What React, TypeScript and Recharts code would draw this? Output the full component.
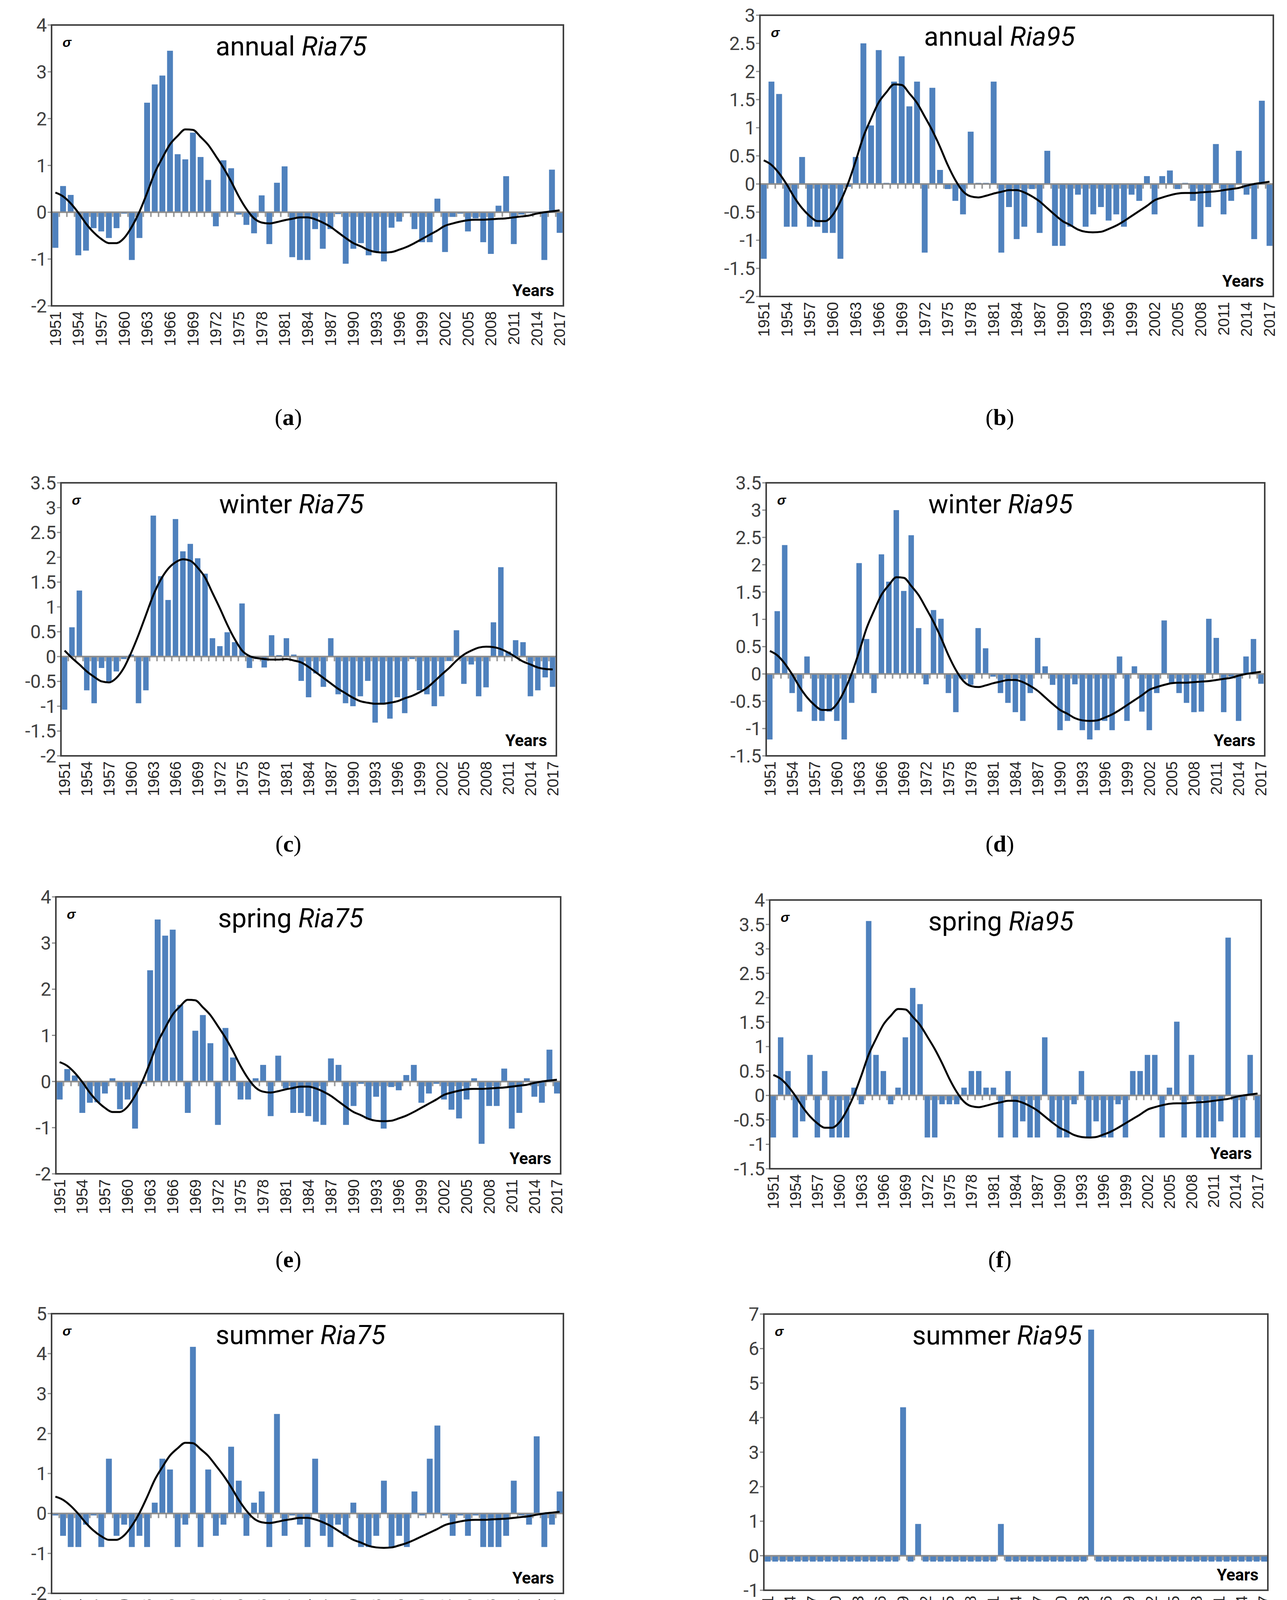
import React from "react";
import { ComposedChart, Bar, Line, XAxis, YAxis, ReferenceLine } from "recharts";

// categories
const years = [
  1951, 1952, 1953, 1954, 1955, 1956, 1957, 1958, 1959, 1960,
  1961, 1962, 1963, 1964, 1965, 1966, 1967, 1968, 1969, 1970,
  1971, 1972, 1973, 1974, 1975, 1976, 1977, 1978, 1979, 1980,
  1981, 1982, 1983, 1984, 1985, 1986, 1987, 1988, 1989, 1990,
  1991, 1992, 1993, 1994, 1995, 1996, 1997, 1998, 1999, 2000,
  2001, 2002, 2003, 2004, 2005, 2006, 2007, 2008, 2009, 2010,
  2011, 2012, 2013, 2014, 2015, 2016, 2017,
];

// standardized anomalies (sigma), one value per year
const annualRia75 = [
  -0.76, 0.56, 0.37, -0.92, -0.82, -0.34, -0.41, -0.55, -0.34, -0.03,
  -1.02, -0.55, 2.34, 2.73, 2.92, 3.45, 1.24, 1.13, 1.7, 1.18,
  0.69, -0.3, 1.11, 0.94, -0.05, -0.27, -0.45, 0.36, -0.68, 0.63,
  0.98, -0.96, -1.02, -1.02, -0.36, -0.78, -0.36, -0.04, -1.1, -0.78,
  -0.66, -0.92, -0.84, -1.05, -0.33, -0.2, -0.02, -0.36, -0.64, -0.64,
  0.29, -0.85, -0.1, -0.03, -0.41, -0.13, -0.64, -0.89, 0.14, 0.77,
  -0.68, -0.05, -0.02, -0.02, -1.02, 0.91, -0.44,
];
const annualRia95 = [
  -1.33, 1.82, 1.6, -0.76, -0.76, 0.48, -0.76, -0.76, -0.87, -0.87,
  -1.33, -0.05, 0.48, 2.5, 1.04, 2.38, 0.02, 1.82, 2.27, 1.38,
  1.82, -1.22, 1.71, 0.25, -0.09, -0.3, -0.54, 0.93, 0.02, 0.02,
  1.82, -1.22, -0.41, -0.98, -0.76, -0.09, -0.87, 0.59, -1.1, -1.1,
  -0.76, -0.19, -0.76, -0.54, -0.41, -0.65, -0.54, -0.76, -0.19, -0.3,
  0.14, -0.54, 0.14, 0.24, -0.09, 0.02, -0.3, -0.76, -0.41, 0.71,
  -0.54, -0.3, 0.59, -0.19, -0.98, 1.48, -1.1,
];
const winterRia75 = [
  -1.07, 0.59, 1.33, -0.68, -0.94, -0.23, -0.5, -0.3, -0.05, 0.04,
  -0.94, -0.68, 2.84, 1.62, 1.14, 2.77, 2.12, 2.27, 1.98, 1.67,
  0.37, 0.21, 0.49, 0.29, 1.07, -0.23, -0.05, -0.22, 0.43, 0.03,
  0.37, 0.04, -0.49, -0.82, -0.34, -0.61, 0.37, -0.76, -0.94, -1.0,
  -0.8, -0.49, -1.33, -0.94, -1.25, -0.82, -1.14, -0.05, -0.68, -0.76,
  -1.0, -0.8, -0.09, 0.53, -0.55, -0.16, -0.8, -0.62, 0.69, 1.8,
  0.1, 0.33, 0.29, -0.8, -0.68, -0.42, -0.61,
];
const winterRia95 = [
  -1.2, 1.15, 2.36, -0.35, -0.69, 0.32, -0.86, -0.86, -0.69, -0.86,
  -1.2, -0.53, 2.03, 0.64, -0.35, 2.19, 1.69, 3.0, 1.52, 2.54,
  0.84, -0.19, 1.17, 1.01, -0.35, -0.7, -0.1, -0.2, 0.84, 0.47,
  -0.05, -0.35, -0.53, -0.7, -0.86, -0.35, 0.66, 0.14, -0.2, -1.03,
  -0.86, -0.19, -1.03, -1.2, -1.03, -0.86, -1.03, 0.32, -0.86, 0.14,
  -0.69, -1.03, -0.35, 0.98, -0.17, -0.35, -0.53, -0.7, -0.69, 1.01,
  0.66, -0.7, -0.05, -0.86, 0.32, 0.64, -0.18,
];
const springRia75 = [
  -0.39, 0.27, 0.13, -0.68, -0.46, -0.45, -0.26, 0.07, -0.6, -0.39,
  -1.02, -0.05, 2.41, 3.51, 3.16, 3.29, 1.66, -0.68, 1.1, 1.44,
  0.83, -0.94, 1.16, 0.52, -0.39, -0.39, 0.07, 0.36, -0.75, 0.56,
  -0.15, -0.68, -0.68, -0.75, -0.87, -0.94, 0.5, 0.36, -0.94, -0.53,
  -0.05, -0.82, -0.33, -1.02, -0.12, -0.19, 0.14, 0.36, -0.46, -0.26,
  -0.05, -0.39, -0.61, -0.8, -0.39, 0.07, -1.35, -0.53, -0.53, 0.28,
  -1.02, -0.68, 0.07, -0.33, -0.46, 0.69, -0.26,
];
const springRia95 = [
  -0.86, 1.19, 0.5, -0.86, -0.53, 0.83, -0.86, 0.5, -0.86, -0.86,
  -0.86, 0.16, -0.18, 3.57, 0.83, 0.5, -0.18, 0.16, 1.19, 2.2,
  1.87, -0.86, -0.86, -0.18, -0.18, -0.18, 0.16, 0.5, 0.5, 0.16,
  0.16, -0.86, 0.5, -0.86, -0.53, -0.86, -0.86, 1.19, -0.53, -0.86,
  -0.86, -0.18, 0.5, -0.86, -0.53, -0.86, -0.86, -0.18, -0.86, 0.5,
  0.5, 0.83, 0.83, -0.86, 0.16, 1.51, -0.86, 0.83, -0.86, -0.86,
  -0.86, -0.53, 3.23, -0.86, -0.86, 0.83, -0.86,
];
const summerRia75 = [
  -0.05, -0.56, -0.84, -0.84, -0.28, -0.05, -0.84, 1.37, -0.56, -0.28,
  -0.84, -0.56, -0.84, 0.27, 1.37, 1.1, -0.84, -0.28, 4.17, -0.84,
  1.1, -0.56, -0.28, 1.67, 0.82, -0.56, 0.27, 0.55, -0.84, 2.49,
  -0.56, -0.05, -0.28, -0.84, 1.37, -0.56, -0.84, -0.28, -0.56, 0.27,
  -0.84, -0.84, -0.56, 0.82, -0.84, -0.56, -0.84, 0.55, -0.05, 1.37,
  2.2, -0.05, -0.56, -0.05, -0.56, -0.05, -0.84, -0.84, -0.84, -0.56,
  0.82, -0.05, -0.28, 1.93, -0.84, -0.28, 0.55,
];
const summerRia95 = [
  -0.17, -0.17, -0.17, -0.17, -0.17, -0.17, -0.17, -0.17, -0.17, -0.17,
  -0.17, -0.17, -0.17, -0.17, -0.17, -0.17, -0.17, -0.17, 4.3, -0.17,
  0.92, -0.17, -0.17, -0.17, -0.17, -0.17, -0.17, -0.17, -0.17, -0.17,
  -0.17, 0.92, -0.17, -0.17, -0.17, -0.17, -0.17, -0.17, -0.17, -0.17,
  -0.17, -0.17, -0.17, 6.55, -0.17, -0.17, -0.17, -0.17, -0.17, -0.17,
  -0.17, -0.17, -0.17, -0.17, -0.17, -0.17, -0.17, -0.17, -0.17, -0.17,
  -0.17, -0.17, -0.17, -0.17, -0.17, -0.17, -0.17,
];
const autumnRia75 = [
  -1.2, 1.47, -0.27, -1.08, -0.67, -0.5, -0.67, -0.8, -0.27, 0.93,
  -0.13, -1.34, -0.4, 2.4, 2.0, 0.53, -0.05, 0.8, -0.94, 0.53,
  -0.27, 2.0, 0.26, 0.66, -0.4, -0.67, -0.94, 0.26, -0.94, -0.05,
  2.54, -0.94, -1.34, -1.08, -0.05, -1.2, -1.34, -0.27, 0.26, -0.94,
  -1.08, 0.26, -0.27, -1.08, 1.6, 1.74, -0.03, -0.03, -0.55, -0.67,
  1.19, -0.13, 0.53, 0.8, 0.4, -0.27, 0.4, -0.55, -0.27, -0.27,
  -0.8, -0.94, 1.47, 0.13, -0.67, 2.54, 0.4,
];
const autumnRia95 = [
  -0.7, 1.5, 0.38, -0.7, -0.7, -0.35, 0.75, -0.35, -0.35, -0.05,
  -0.7, -0.7, -0.7, 2.97, 1.87, -0.7, -0.05, -0.05, -0.7, -0.7,
  -0.05, -0.35, 1.5, 1.5, 0.75, -0.7, -0.7, 1.5, -0.7, -0.7,
  4.05, -0.7, -0.7, -0.7, -0.7, -0.7, -0.7, -0.7, -0.7, -0.7,
  -0.7, 1.5, -0.7, -0.7, 1.87, 0.38, -0.7, -0.35, 0.75, -0.35,
  1.5, -0.35, -0.35, 0.38, -0.05, -0.7, -0.05, -0.7, 0.38, -0.05,
  -0.35, -0.7, 0.38, -0.05, -0.7, 1.1, -0.7,
];

// smoothed trend curves
const trendMain = [
  0.42, 0.34, 0.19, -0.01, -0.24, -0.43, -0.57, -0.66, -0.66, -0.55,
  -0.31, 0.01, 0.41, 0.84, 1.16, 1.45, 1.63, 1.77, 1.76, 1.61,
  1.44, 1.2, 0.95, 0.66, 0.34, 0.07, -0.13, -0.22, -0.24, -0.21,
  -0.17, -0.14, -0.11, -0.11, -0.15, -0.22, -0.31, -0.43, -0.55, -0.66,
  -0.73, -0.81, -0.85, -0.86, -0.85, -0.8, -0.74, -0.66, -0.57, -0.48,
  -0.39, -0.29, -0.24, -0.2, -0.17, -0.16, -0.16, -0.15, -0.14, -0.13,
  -0.11, -0.09, -0.07, -0.03, 0.0, 0.02, 0.04,
];
const trendWinter75 = [
  0.12, -0.03, -0.16, -0.3, -0.41, -0.5, -0.52, -0.43, -0.23, 0.08,
  0.44, 0.84, 1.24, 1.55, 1.77, 1.9, 1.96, 1.93, 1.79, 1.59,
  1.28, 0.97, 0.64, 0.35, 0.12, 0.01, -0.03, -0.05, -0.06, -0.06,
  -0.05, -0.08, -0.12, -0.21, -0.32, -0.43, -0.54, -0.65, -0.74, -0.83,
  -0.9, -0.93, -0.95, -0.95, -0.93, -0.9, -0.84, -0.79, -0.72, -0.63,
  -0.5, -0.36, -0.23, -0.08, 0.04, 0.12, 0.18, 0.2, 0.19, 0.15,
  0.08, -0.01, -0.1, -0.16, -0.22, -0.25, -0.26,
];

// y-axis ticks per panel
const ticksA = [-2, -1, 0, 1, 2, 3, 4];
const ticksB = [-2, -1.5, -1, -0.5, 0, 0.5, 1, 1.5, 2, 2.5, 3];
const ticksC = [-2, -1.5, -1, -0.5, 0, 0.5, 1, 1.5, 2, 2.5, 3, 3.5];
const ticksD = [-1.5, -1, -0.5, 0, 0.5, 1, 1.5, 2, 2.5, 3, 3.5];
const ticksE = [-2, -1, 0, 1, 2, 3, 4];
const ticksF = [-1.5, -1, -0.5, 0, 0.5, 1, 1.5, 2, 2.5, 3, 3.5, 4];
const ticksG = [-2, -1, 0, 1, 2, 3, 4, 5];
const ticksH = [-1, 0, 1, 2, 3, 4, 5, 6, 7];
const ticksI = [-2, -1.5, -1, -0.5, 0, 0.5, 1, 1.5, 2, 2.5, 3];
const ticksJ = [-2, -1, 0, 1, 2, 3, 4, 5];

const BLUE = "#4F81BD";
const NARROW = "'Liberation Sans Narrow', 'Arial Narrow', Roboto, sans-serif";
const SANS = "'Liberation Sans', Arial, sans-serif";
const SERIF = "'Liberation Serif', 'Times New Roman', serif";

// layout: plot box [left, top, right, bottom] and caption centre
const panels = [
  { id: "a", season: "annual", ria: "Ria75", values: annualRia75, trend: trendMain, ticks: ticksA, box: [132, 64, 1442, 783], cap: [738, 1068], titleX: 420 },
  { id: "b", season: "annual", ria: "Ria95", values: annualRia95, trend: trendMain, ticks: ticksB, box: [1945, 39, 3259, 759], cap: [2559, 1068], titleX: 420 },
  { id: "c", season: "winter", ria: "Ria75", values: winterRia75, trend: trendWinter75, ticks: ticksC, box: [156, 1236, 1424, 1935], cap: [738, 2160], titleX: 405 },
  { id: "d", season: "winter", ria: "Ria95", values: winterRia95, trend: trendMain, ticks: ticksD, box: [1961, 1236, 3237, 1935], cap: [2559, 2160], titleX: 415 },
  { id: "e", season: "spring", ria: "Ria75", values: springRia75, trend: trendMain, ticks: ticksE, box: [143, 2296, 1435, 3005], cap: [738, 3224], titleX: 415 },
  { id: "f", season: "spring", ria: "Ria95", values: springRia95, trend: trendMain, ticks: ticksF, box: [1970, 2304, 3228, 2992], cap: [2559, 3224], titleX: 406 },
  { id: "g", season: "summer", ria: "Ria75", values: summerRia75, trend: trendMain, ticks: ticksG, box: [132, 3363, 1442, 4079], cap: [738, 4306], titleX: 420 },
  { id: "h", season: "summer", ria: "Ria95", values: summerRia95, trend: null, ticks: ticksH, box: [1955, 3364, 3245, 4071], cap: [2559, 4306], titleX: 380 },
  { id: "i", season: "autumn", ria: "Ria75", values: autumnRia75, trend: trendMain, ticks: ticksI, box: [183, 4457, 1382, 5113], cap: [738, 5350], titleX: 388 },
  { id: "j", season: "autumn", ria: "Ria95", values: autumnRia95, trend: trendMain, ticks: ticksJ, box: [1971, 4442, 3228, 5118], cap: [2559, 5350], titleX: 405 },
];

function YearTick({ x, y, payload }: any) {
  const ty = y + 6;
  return (
    <text
      x={x}
      y={ty}
      transform={`rotate(-90 ${x} ${ty})`}
      textAnchor="end"
      dominantBaseline="central"
      fontSize={40}
      fill="#262626"
      fontFamily={SANS}
    >
      {payload.value}
    </text>
  );
}

// Excel-like bar: the bar plus a small grey tick under the zero axis at the category edge
function makeBarShape(band: number) {
  return (p: any) => {
    const { x, y, width, height, payload } = p;
    const top = Math.min(y, y + height);
    const bot = Math.max(y, y + height);
    const zeroY = payload.v >= 0 ? bot : top;
    const tx = x + width / 2 - band / 2;
    return (
      <g>
        <line x1={tx} x2={tx} y1={zeroY} y2={zeroY + 12} stroke="#9a9a9a" strokeWidth={4} />
        <rect x={x} y={top} width={width} height={bot - top} fill={BLUE} />
      </g>
    );
  };
}

function Panel({ spec }: any) {
  const [l, t, r, b] = spec.box;
  const w = r - l;
  const h = b - t;
  const ML = 130;
  const MT = 40;
  const MR = 12;
  const XH = 140;
  const band = w / years.length;
  const data = years.map((yr, i) => ({
    year: yr,
    v: spec.values[i],
    t: spec.trend ? spec.trend[i] : null,
  }));
  const ticks = spec.ticks;

  return (
    <>
      <div style={{ position: "absolute", left: l - ML, top: t - MT }}>
        <ComposedChart
          width={w + ML + MR}
          height={h + MT + XH}
          data={data}
          margin={{ top: MT, right: MR, left: 10, bottom: 0 }}
          barCategoryGap="12%"
        >
          <XAxis
            dataKey="year"
            interval={2}
            axisLine={false}
            tickLine={false}
            height={XH}
            tick={<YearTick />}
          />
          <YAxis
            width={ML - 10}
            domain={[ticks[0], ticks[ticks.length - 1]]}
            ticks={ticks}
            interval={0}
            axisLine={false}
            tickLine={{ stroke: "#8a8a8a", strokeWidth: 3 }}
            tickSize={10}
            tick={{ fontSize: 48, fill: "#404040", fontFamily: NARROW }}
          />
          <Bar dataKey="v" fill={BLUE} isAnimationActive={false} shape={makeBarShape(band)} />
          <ReferenceLine y={0} stroke="#8c8c8c" strokeWidth={4} />
          {spec.trend && (
            <Line
              dataKey="t"
              type="monotone"
              stroke="#000000"
              strokeWidth={5}
              dot={false}
              activeDot={false}
              isAnimationActive={false}
            />
          )}
        </ComposedChart>
      </div>
      <svg
        width={w}
        height={h}
        style={{ position: "absolute", left: l, top: t, overflow: "visible", pointerEvents: "none" }}
      >
        <rect x={0} y={0} width={w} height={h} fill="none" stroke="#404040" strokeWidth={4} />
        <text x={28} y={56} fontSize={34} fontStyle="italic" fontWeight="bold" fill="#000" fontFamily={SANS}>
          σ
        </text>
        <text x={spec.titleX} y={78} fontSize={68} fill="#000" fontFamily={NARROW}>
          {spec.season + " "}
          <tspan fontStyle="italic">{spec.ria}</tspan>
        </text>
        <text x={w - 24} y={h - 25} textAnchor="end" fontSize={42} fontWeight="bold" fill="#000" fontFamily={NARROW}>
          Years
        </text>
      </svg>
      <div
        style={{
          position: "absolute",
          left: spec.cap[0] - 100,
          top: spec.cap[1] - 36,
          width: 200,
          textAlign: "center",
          fontSize: 60,
          lineHeight: "72px",
          fontFamily: SERIF,
          color: "#000",
        }}
      >
        (<b>{spec.id}</b>)
      </div>
    </>
  );
}

export default function App() {
  return (
    <div
      style={{
        position: "absolute",
        left: 0,
        top: 0,
        width: 3294,
        height: 5436,
        background: "#ffffff",
        overflow: "hidden",
      }}
    >
      {panels.map((p) => (
        <Panel key={p.id} spec={p} />
      ))}
    </div>
  );
}
